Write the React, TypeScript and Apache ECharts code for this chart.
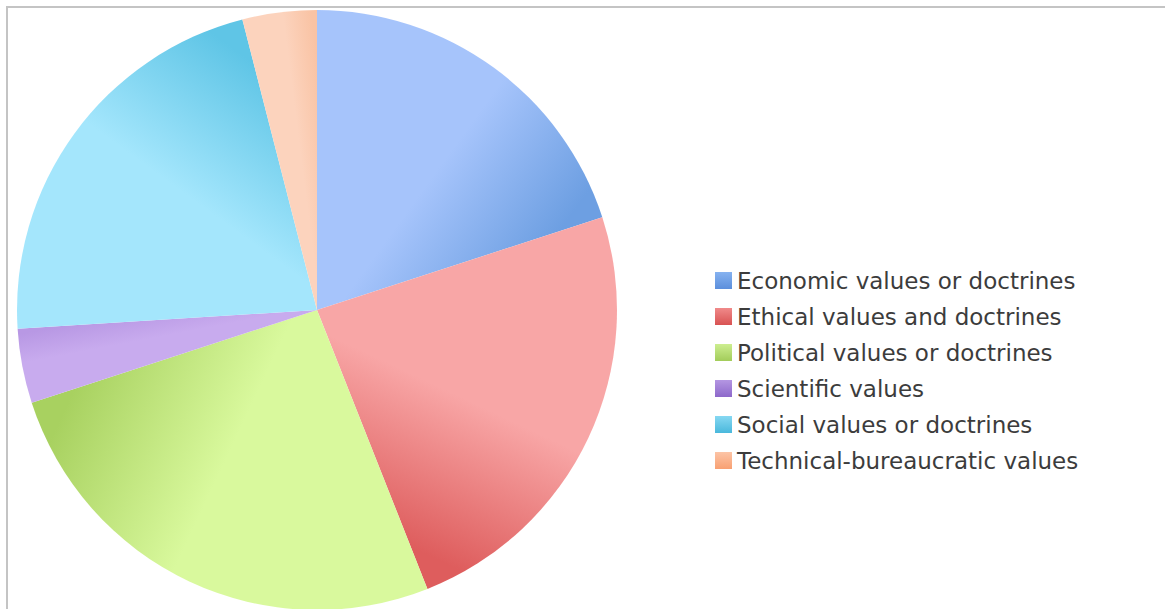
import React, { useEffect, useRef } from "react";
import * as echarts from "echarts";

const categories = [
  "Economic values or doctrines",
  "Ethical values and doctrines",
  "Political values or doctrines",
  "Scientific values",
  "Social values or doctrines",
  "Technical-bureaucratic values",
];
const values = [10, 12, 13, 2, 11, 2];
const lightColors = ["#a6c4fb", "#f8a6a6", "#d9f99d", "#c8abee", "#a4e6fc", "#fcd3bd"];
const darkColors = ["#6d9fe2", "#de5d5d", "#a8d160", "#b898e4", "#5fc5e6", "#f9c3a4"];
const iconLight = ["#86b2f0", "#f08a8a", "#cdee90", "#b496e2", "#86d8f2", "#fcc4a6"];
const iconDark = ["#5c8fdc", "#d85252", "#a2cc5a", "#8d68ca", "#4ab8dc", "#f8a072"];

const CX = 317;
const CY = 310;
const R = 300;

export default function App() {
  const ref = useRef<HTMLDivElement>(null);
  useEffect(() => {
    if (!ref.current) return;
    const chart = echarts.init(ref.current, undefined, { renderer: "svg" });
    const total = values.reduce((a, b) => a + b, 0);
    let acc = 0;
    const data = values.map((v, i) => {
      const a0 = (acc / total) * Math.PI * 2;
      acc += v;
      const a1 = (acc / total) * Math.PI * 2;
      const rr = R * 0.85;
      const x0 = CX + rr * Math.sin(a0);
      const y0 = CY - rr * Math.cos(a0);
      const x1 = CX + rr * Math.sin(a1);
      const y1 = CY - rr * Math.cos(a1);
      return {
        name: categories[i],
        value: v,
        itemStyle: {
          color: new echarts.graphic.LinearGradient(
            x0, y0, x1, y1,
            [
              { offset: 0, color: lightColors[i] },
              { offset: 0.55, color: lightColors[i] },
              { offset: 1, color: darkColors[i] },
            ],
            true
          ),
        },
      };
    });
    chart.setOption({
      animation: false,
      backgroundColor: "#ffffff",
      graphic: [
        {
          type: "rect",
          shape: { x: 7, y: 7, width: 1300, height: 800 },
          style: { fill: "none", stroke: "#c4c4c4", lineWidth: 2 },
          z: -10,
          silent: true,
        },
      ],
      legend: {
        orient: "vertical",
        left: 710,
        top: 264,
        itemWidth: 17,
        itemHeight: 17,
        itemGap: 13,
        icon: "rect",
        selectedMode: false,
        textStyle: {
          fontFamily: "DejaVu Sans",
          fontSize: 23,
          color: "#3c3c3c",
          lineHeight: 22,
          padding: [0, 0, 0, 0],
        },
        data: categories.map((c, i) => ({
          name: c,
          itemStyle: {
            color: new echarts.graphic.LinearGradient(0, 0, 0, 1, [
              { offset: 0, color: iconLight[i] },
              { offset: 1, color: iconDark[i] },
            ]),
          },
        })),
      },
      series: [
        {
          type: "pie",
          center: [CX, CY],
          radius: R,
          startAngle: 90,
          clockwise: true,
          label: { show: false },
          labelLine: { show: false },
          emphasis: { disabled: true },
          itemStyle: { borderWidth: 0 },
          data,
        },
      ],
    });
    return () => chart.dispose();
  }, []);
  return (
    <div
      ref={ref}
      style={{ position: "fixed", left: 0, top: 0, width: 1165, height: 609 }}
    />
  );
}
